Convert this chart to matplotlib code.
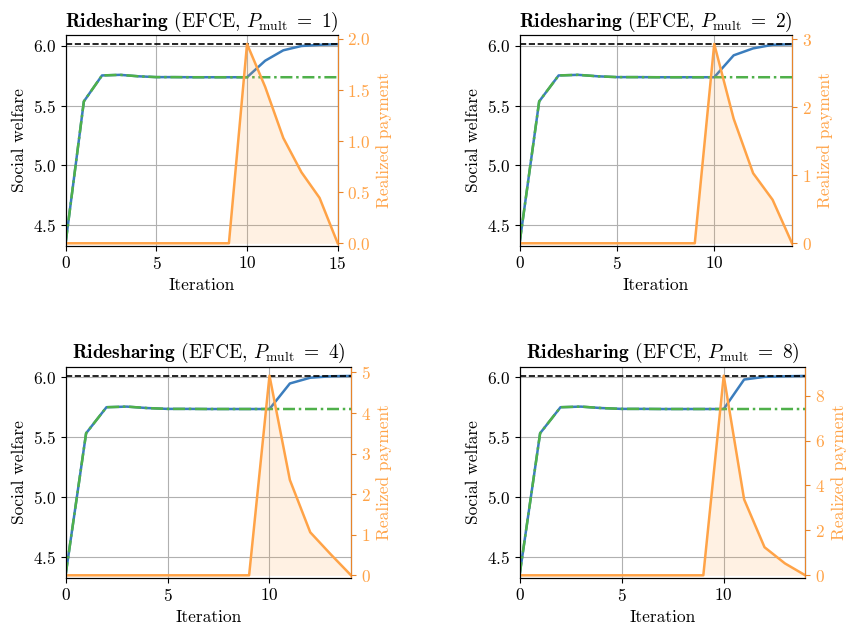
import matplotlib
matplotlib.use("Agg")
import matplotlib.pyplot as plt
import numpy as np

plt.rcParams['font.family'] = 'serif'
plt.rcParams['font.serif'] = ['cmr10', 'DejaVu Serif']
plt.rcParams['mathtext.fontset'] = 'cm'
plt.rcParams['axes.formatter.use_mathtext'] = True
plt.rcParams['font.size'] = 12.5

# data
mults = [1, 2, 4, 8]
optimum = 6.015
welfare_base = [4.36, 5.535, 5.752, 5.757, 5.745, 5.738, 5.738, 5.737, 5.737, 5.737, 5.737]
welfare_tail = {
    1: [5.875, 5.962, 5.998, 6.008, 6.013],
    2: [5.92, 5.978, 6.008, 6.013],
    4: [5.95, 5.998, 6.01, 6.013],
    8: [5.983, 6.005, 6.01, 6.013],
}
payment = {
    1: [0, 0, 0, 0, 0, 0, 0, 0, 0, 0, 1.95, 1.53, 1.03, 0.695, 0.444, 0.0],
    2: [0, 0, 0, 0, 0, 0, 0, 0, 0, 0, 2.93, 1.83, 1.03, 0.64, 0.0],
    4: [0, 0, 0, 0, 0, 0, 0, 0, 0, 0, 4.92, 2.35, 1.06, 0.52, 0.0],
    8: [0, 0, 0, 0, 0, 0, 0, 0, 0, 0, 8.89, 3.38, 1.25, 0.53, 0.0],
}
xticks = [0, 5, 10, 15]

blue = '#3b7dbd'
green = '#4fb04a'
orange = '#ffa347'
orange_dark = '#e8842a'

positions = {
    1: [0.0776, 0.6088, 0.3211, 0.3355],
    2: [0.6136, 0.6088, 0.3215, 0.3355],
    4: [0.0776, 0.0801, 0.3368, 0.3360],
    8: [0.6136, 0.0801, 0.3372, 0.3360],
}

fig = plt.figure(figsize=(8.47, 6.28), dpi=100)

for m in mults:
    ax = fig.add_axes(positions[m])
    welfare = welfare_base + welfare_tail[m]
    x = np.arange(len(welfare))
    pay = payment[m]
    peak = max(pay)

    # welfare without payments stays flat after iteration 10
    flat = welfare_base + [welfare_base[-1]] * len(welfare_tail[m])

    ax.plot(x, welfare, color=blue, lw=1.8, zorder=2)
    ax.plot(x, flat, color=green, lw=1.8, ls=(0, (4.8, 1.5, 1, 1.5)), zorder=3)
    ax.axhline(optimum, color='black', lw=1.2, ls='--', zorder=4)

    ax.set_xlim(0, x[-1])
    ax.set_ylim(4.33, 6.09)
    ax.set_xticks([t for t in xticks if t <= x[-1]])
    ax.set_yticks([4.5, 5.0, 5.5, 6.0])
    ax.grid(True, color='#b0b0b0', lw=0.8)
    ax.set_xlabel('Iteration')
    ax.set_ylabel('Social welfare')
    ax.set_title(r'$\mathbf{Ridesharing}$ (EFCE, $P_{\mathrm{mult}}\ =\ %d$)' % m, fontsize=14)

    ax2 = ax.twinx()
    ax2.fill_between(x, 0, pay, color=orange, alpha=0.15, lw=0)
    ax2.plot(x, pay, color=orange, lw=1.8)
    ax2.set_ylim(-0.012 * peak, 1.045 * peak)
    if m == 1:
        ax2.set_yticks([0, 0.5, 1.0, 1.5, 2.0])
    elif m == 2:
        ax2.set_yticks([0, 1, 2, 3])
    elif m == 4:
        ax2.set_yticks([0, 1, 2, 3, 4, 5])
    else:
        ax2.set_yticks([0, 2, 4, 6, 8])
    ax2.set_ylabel('Realized payment', color=orange)
    ax2.tick_params(axis='y', colors=orange_dark, labelcolor=orange)
    ax2.spines['right'].set_color(orange_dark)

fig.savefig('out.png', dpi=100)
